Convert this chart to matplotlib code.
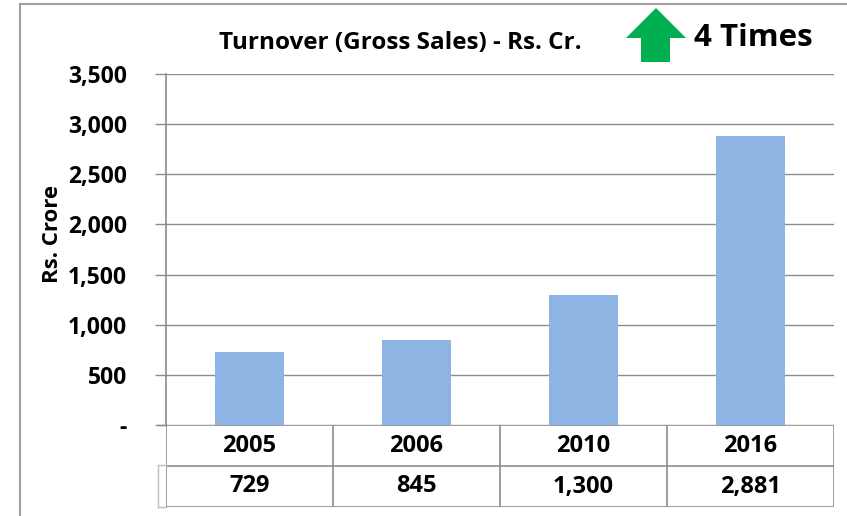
import matplotlib
matplotlib.use("Agg")
import matplotlib.pyplot as plt
from matplotlib.patches import Polygon
from matplotlib.lines import Line2D
from matplotlib.ticker import FuncFormatter

plt.rcParams['font.family'] = ['Open Sans', 'DejaVu Sans']
plt.rcParams['font.weight'] = 'bold'

# data
years = ["2005", "2006", "2010", "2016"]
turnover = [729, 845, 1300, 2881]
table_labels = ["729", "845", "1,300", "2,881"]
y_ticks = [0, 500, 1000, 1500, 2000, 2500, 3000, 3500]

W, H = 847, 516
fig = plt.figure(figsize=(W / 100, H / 100), dpi=100)

def fx(px):
    return px / W

def fy(py):
    return 1 - py / H

grey = "#8c8c8c"

# main axes
ax = fig.add_axes([fx(166), fy(425), fx(834) - fx(166), fy(74) - fy(425)])
x = range(len(years))
ax.bar(x, turnover, width=0.41, color="#8EB4E3", zorder=3)
ax.set_xlim(-0.5, len(years) - 0.5)
ax.set_ylim(0, 3500)
ax.set_yticks(y_ticks)
ax.yaxis.set_major_formatter(FuncFormatter(lambda v, p: "-" if v == 0 else f"{int(v):,}"))
ax.tick_params(axis="y", length=8, width=1, color=grey, labelsize=16.5, pad=20)
ax.tick_params(axis="x", bottom=False, labelbottom=False)
ax.grid(axis="y", color=grey, linewidth=1, zorder=0)
for s in ["top", "right", "bottom"]:
    ax.spines[s].set_visible(False)
ax.spines["left"].set_color(grey)
ax.spines["left"].set_linewidth(1.2)
ax.set_ylabel("Rs. Crore", fontsize=16, fontweight="bold")
ax.yaxis.set_label_coords(-0.154, 0.544)
for lab in ax.get_yticklabels():
    lab.set_fontweight("bold")

# data table underneath
tax = fig.add_axes([fx(166), fy(507), fx(834) - fx(166), fy(425) - fy(507)])
tax.set_xlim(-0.5, len(years) - 0.5)
tax.set_ylim(0, 2)
tax.axis("off")
for r in [0, 1, 2]:
    tax.axhline(r, color=grey, linewidth=1.2)
for c in range(len(years) + 1):
    tax.axvline(c - 0.5, color=grey, linewidth=1.2)
for i, (yr, lab) in enumerate(zip(years, table_labels)):
    tax.text(i, 1.5, yr, ha="center", va="center", fontsize=17, fontweight="bold")
    tax.text(i, 0.5, lab, ha="center", va="center", fontsize=17, fontweight="bold")
fig.add_artist(Line2D([fx(158), fx(166)], [fy(425), fy(425)], color=grey, lw=1))
fig.add_artist(Line2D([fx(158), fx(158)], [fy(465), fy(507)], color="#c0c0c0", lw=1))
fig.add_artist(Line2D([fx(158), fx(166)], [fy(507), fy(507)], color="#c0c0c0", lw=1))
fig.add_artist(Line2D([fx(158), fx(166)], [fy(465), fy(465)], color="#c0c0c0", lw=1))

# outer frame
fig.add_artist(Line2D([fx(20), 1], [fy(4), fy(4)], color="#a0a0a0", lw=1.5))
fig.add_artist(Line2D([fx(20), fx(20)], [fy(4), 0], color="#a0a0a0", lw=1.5))

# titles
fig.text(fx(400), fy(43), "Turnover (Gross Sales) - Rs. Cr.", ha="center", va="center",
         fontsize=17.5, fontweight="bold")
arrow = [(656, 8), (686, 38), (670, 38), (670, 62), (641, 62), (641, 38), (626, 38)]
fig.add_artist(Polygon([(fx(px), fy(py)) for px, py in arrow], closed=True,
                       facecolor="#00B050", edgecolor="none"))
fig.text(fx(694), fy(38), "4 Times", ha="left", va="center", fontsize=22.5, fontweight="bold")

fig.savefig("out.png", dpi=100)
